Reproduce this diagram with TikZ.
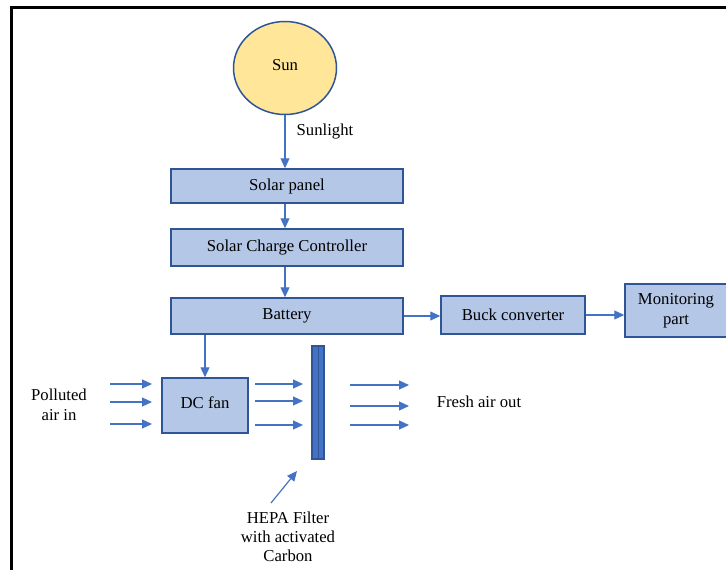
\documentclass[tikz,border=0pt]{standalone}
\usepackage{fontspec}
\setmainfont{Liberation Serif}
\usetikzlibrary{arrows.meta,shapes.geometric}
\definecolor{boxfill}{HTML}{B4C7E7}
\definecolor{boxline}{HTML}{2F5597}
\definecolor{flowblue}{HTML}{4472C4}
\definecolor{sunfill}{HTML}{FFE699}

\tikzset{
  block/.style={draw=boxline, fill=boxfill, line width=1.5pt, inner sep=0pt, align=center},
  flow/.style={-{Triangle[length=10pt,width=9pt]}, draw=flowblue, line width=1.2pt},
  txt/.style={align=center, inner sep=0pt},
}

\begin{document}
\begin{tikzpicture}[x=1pt,y=-1pt,font=\fontsize{16.7}{20}\selectfont]
            \useasboundingbox (0,0) rectangle (726,570);
            \draw[line width=2.5pt] (11.5,580) -- (11.5,7.5) -- (740,7.5);

            \node[ellipse, draw=boxline, fill=sunfill, line width=1.5pt, minimum width=103pt, minimum height=93pt, inner sep=0pt](sun) at (285,68) {\raisebox{6pt}{Sun}};
            \node[txt](sunlight) at (325,132) {Sunlight};
            \node[block, minimum width=232pt, minimum height=34pt](panel)   at (287,186)   {Solar panel};
            \node[block, minimum width=232pt, minimum height=37pt](scc)     at (287,247.5) {Solar Charge Controller};
            \node[block, minimum width=232pt, minimum height=36pt](battery) at (287,316)   {Battery};
            \node[block, minimum width=144pt, minimum height=38pt](buck)    at (513,315)   {Buck converter};
            \node[block, minimum width=102pt, minimum height=53pt](monitor) at (676,310.5) {Monitoring\\part};
            \node[block, minimum width=86pt,  minimum height=55pt](fan)     at (205,405.5) {\raisebox{6pt}{DC fan}};
            \node[draw=boxline, fill=flowblue, line width=1.5pt, minimum width=12pt, minimum height=113pt, inner sep=0pt](filter) at (318,402.5) {};
            \draw[boxline, line width=1pt] (filter.north) -- (filter.south);

            \node[txt](polluted) at (59,405)  {Polluted\\air in};
            \node[txt](fresh)    at (479,402) {Fresh air out};
            \node[txt, font=\fontsize{16.7}{19}\selectfont](hepa) at (288,537) {HEPA Filter\\with activated\\Carbon};
            \coordinate (hepatail) at (271,503);
            \coordinate (hepatip)  at (297,471);

            \path
                (sun.south)                  edge[flow] (sun.south |- panel.north)
                (panel.south -| sun)         edge[flow] (scc.north -| sun)
                (scc.south -| sun)           edge[flow] (battery.north -| sun)
                (battery.east)               edge[flow] (battery.east -| buck.west)
                (buck.east)                  edge[flow] (buck.east -| monitor.west)
                (battery.south -| fan.north) edge[flow] (fan.north)
                (hepatail)                   edge[flow] (hepatip)
                ;

            % air flow
            \foreach \y in {384,402,424}
                \draw[flow] (110,\y) -- (152,\y);
            \foreach \y in {384,401,425}
                \draw[flow] (255,\y) -- (303,\y);
            \foreach \y in {385,406,425}
                \draw[flow] (350,\y) -- (409,\y);
\end{tikzpicture}
\end{document}
